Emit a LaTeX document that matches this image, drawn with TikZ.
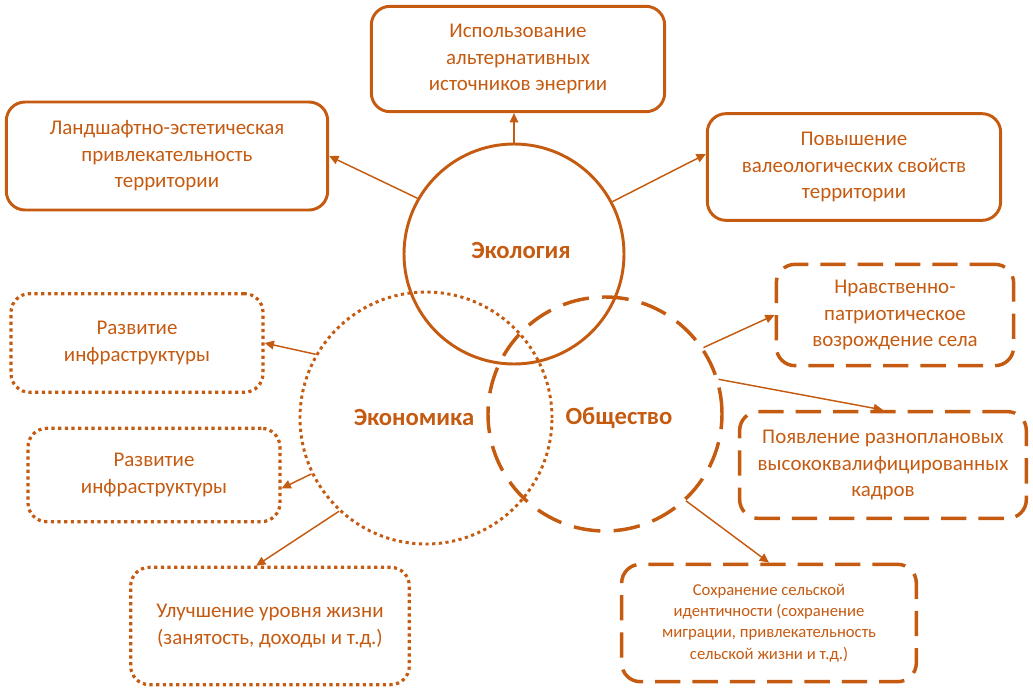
\documentclass[tikz,border=0pt]{standalone}
\usepackage{fontspec}
\setmainfont{Carlito}
\usetikzlibrary{arrows.meta,positioning}
\definecolor{rust}{HTML}{C55A11}

\begin{document}
\begin{tikzpicture}[x=0.75pt,y=-0.75pt,
  every node/.style={font=\fontsize{15.7}{19.8}\selectfont,text=rust,align=center},
  solidbox/.style={draw=rust,line width=2.2pt,rounded corners=14pt},
  dotbox/.style={draw=rust,line width=2.4pt,rounded corners=14pt,dash pattern=on 2.4pt off 2.6pt},
  dashbox/.style={draw=rust,line width=2.6pt,rounded corners=14pt,dash pattern=on 19pt off 9pt},
  circ/.style={circle,draw=rust,line width=2.2pt},
  lbl/.style={font=\fontsize{18.5}{22}\selectfont\bfseries},
  link/.style={draw=rust,line width=1.1pt,-{Triangle[length=7pt,width=6.5pt]}}]
  \useasboundingbox (0,0) rectangle (1033,689);
  % three spheres
  \node[circ,minimum size=165pt,label={[lbl,xshift=5.25pt,yshift=3pt]center:Экология}] (ecol) at (514,254) {};
  \node[circ,minimum size=189pt,dash pattern=on 2.4pt off 2.6pt,
    label={[lbl,xshift=-9pt,yshift=0.75pt]center:Экономика}] (econ) at (426,418) {};
  \node[circ,minimum size=175.5pt,line width=2.6pt,dash pattern=on 20pt off 10pt,
    label={[lbl,xshift=10.5pt,yshift=-3pt]center:Общество}] (soc) at (605,414) {};
  % ecology: solid boxes
  \node[solidbox,minimum width=220pt,minimum height=79pt] (alt) at (518,59)
    {Использование\\альтернативных\\источников энергии};
  \node[solidbox,minimum width=241pt,minimum height=81pt] (land) at (167,156)
    {Ландшафтно-эстетическая\\привлекательность\\территории};
  \node[solidbox,minimum width=220pt,minimum height=80pt] (val) at (854,167)
    {Повышение\\валеологических свойств\\территории};
  % economy: dotted boxes
  \node[dotbox,minimum width=189pt,minimum height=74pt] (infra1) at (137,343)
    {Развитие\\инфраструктуры};
  \node[dotbox,minimum width=189pt,minimum height=70pt] (infra2) at (154,475)
    {Развитие\\инфраструктуры};
  \node[dotbox,minimum width=209pt,minimum height=88pt] (life) at (270,626)
    {Улучшение уровня жизни\\(занятость, доходы и т.д.)};
  % society: dashed boxes
  \node[dashbox,minimum width=178pt,minimum height=76pt] (moral) at (895,315)
    {Нравственно-\\патриотическое\\возрождение села};
  \node[dashbox,minimum width=215pt,minimum height=80pt] (cadre) at (883,465)
    {Появление разноплановых\\высококвалифицированных\\кадров};
  \node[dashbox,minimum width=221pt,minimum height=88pt,font=\fontsize{12.5}{16}\selectfont] (ident) at (769,623)
    {Сохранение сельской\\идентичности (сохранение\\миграции, привлекательность\\сельской жизни и т.д.)};
  % connectors
  \draw[link] (ecol.north) -- (ecol.north |- alt.south);
  \draw[link] (ecol.150) -- (land.east);
  \draw[link] (ecol.28) -- (val.175);
  \draw[link] (econ.150) -- (infra1.east);
  \draw[link] (econ.206) -- (infra2.354);
  \draw[link] (econ.227) -- (life.103);
  \draw[link] (soc.34) -- (moral.west);
  \draw[link] (soc.17) -- (cadre.north);
  \draw[link] (soc.-47) -- (ident.north);
\end{tikzpicture}
\end{document}
